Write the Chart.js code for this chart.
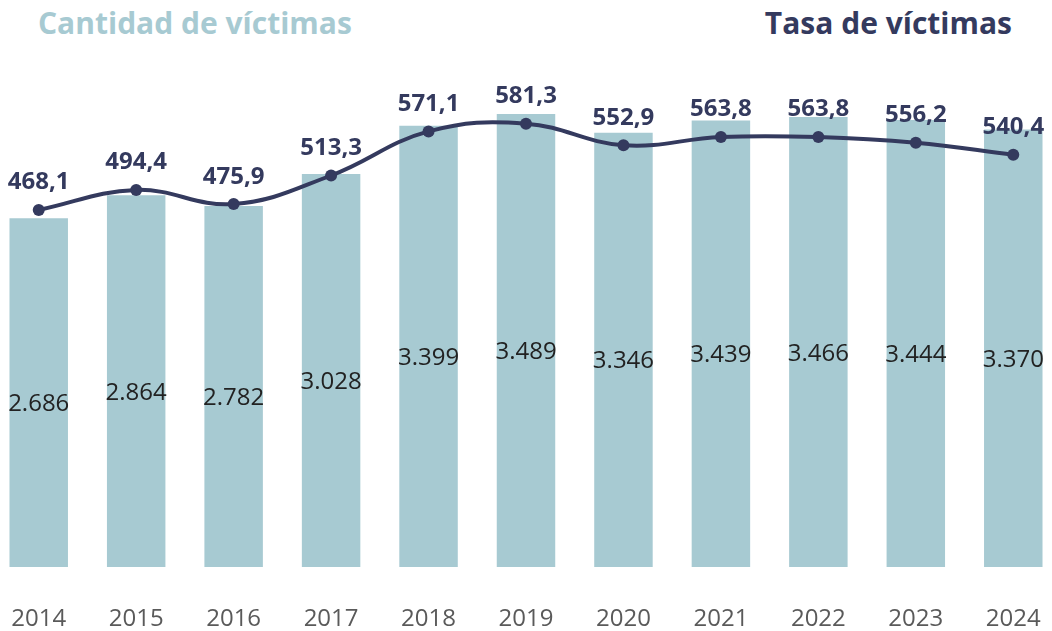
<!DOCTYPE html>
<html lang="es">
<head>
<meta charset="utf-8">
<title>Víctimas</title>
<script src="https://cdn.jsdelivr.net/npm/chart.js@4.4.1/dist/chart.umd.min.js"></script>
<style>
  html, body { margin: 0; padding: 0; background: #fff; overflow: hidden; }
  body { width: 1052px; height: 631px; position: relative; font-family: 'Open Sans', sans-serif; }
  .title { position: absolute; top: 3px; font-weight: 700; font-size: 30px; margin: 0; line-height: 40px; }
  .t-left { left: 38px; color: #a7cad2; }
  .t-right { right: 40px; color: #343a5e; }
  .wrap { position: absolute; left: -10px; top: 0; width: 1072px; height: 631px; }
</style>
</head>
<body>
<h2 class="title t-left">Cantidad de víctimas</h2>
<h2 class="title t-right">Tasa de víctimas</h2>
<div class="wrap"><canvas id="chart"></canvas></div>
<script>
// Data
const years = ['2014', '2015', '2016', '2017', '2018', '2019', '2020', '2021', '2022', '2023', '2024'];
const victimas = [2686, 2864, 2782, 3028, 3399, 3489, 3346, 3439, 3466, 3444, 3370];
const tasa = [468.1, 494.4, 475.9, 513.3, 571.1, 581.3, 552.9, 563.8, 563.8, 556.2, 540.4];

const barColor = '#a7cad2';
const navy = '#343a5e';

const fmtCount = v => Math.floor(v / 1000) + '.' + String(v % 1000).padStart(3, '0');
const fmtRate = v => v.toFixed(1).replace('.', ',');

// Draw the value labels (no datalabels plugin offline)
const valueLabels = {
  id: 'valueLabels',
  afterDatasetsDraw(chart) {
    const ctx = chart.ctx;
    ctx.save();
    ctx.textAlign = 'center';
    ctx.textBaseline = 'alphabetic';

    const bars = chart.getDatasetMeta(1).data;
    ctx.font = '400 24px "Open Sans"';
    ctx.fillStyle = '#222';
    bars.forEach((b, i) => {
      const mid = (b.y + b.base) / 2;
      ctx.fillText(fmtCount(victimas[i]), b.x, mid + 10 + 8.5);
    });

    const pts = chart.getDatasetMeta(0).data;
    ctx.font = '700 24px "Open Sans"';
    ctx.fillStyle = navy;
    pts.forEach((p, i) => {
      ctx.fillText(fmtRate(tasa[i]), p.x, p.y - 29 + 8.5);
    });
    ctx.restore();
  }
};

new Chart(document.getElementById('chart'), {
  data: {
    labels: years,
    datasets: [
      {
        type: 'line',
        label: 'Tasa de víctimas',
        data: tasa,
        yAxisID: 'y1',
        borderColor: navy,
        backgroundColor: navy,
        borderWidth: 4,
        pointRadius: 6,
        pointBackgroundColor: navy,
        pointBorderWidth: 0,
        tension: 0.4,
        clip: false,
        order: 0
      },
      {
        type: 'bar',
        label: 'Cantidad de víctimas',
        data: victimas,
        yAxisID: 'y',
        backgroundColor: barColor,
        barPercentage: 0.6,
        categoryPercentage: 1,
        order: 1
      }
    ]
  },
  options: {
    responsive: true,
    maintainAspectRatio: false,
    animation: false,
    layout: { padding: 0, autoPadding: false },
    plugins: { legend: { display: false }, tooltip: { enabled: false } },
    scales: {
      x: {
        grid: { display: false, drawTicks: false },
        border: { display: false },
        ticks: { color: '#5a5a5a', font: { family: 'Open Sans', size: 24 }, padding: 38 },
        afterFit: s => { s.height = 64; s.paddingLeft = 0; s.paddingRight = 0; }
      },
      y: { display: false, min: 0, max: 4368 },
      y1: { display: false, min: 0, max: 743.4 }
    }
  },
  plugins: [valueLabels]
});
</script>
</body>
</html>
